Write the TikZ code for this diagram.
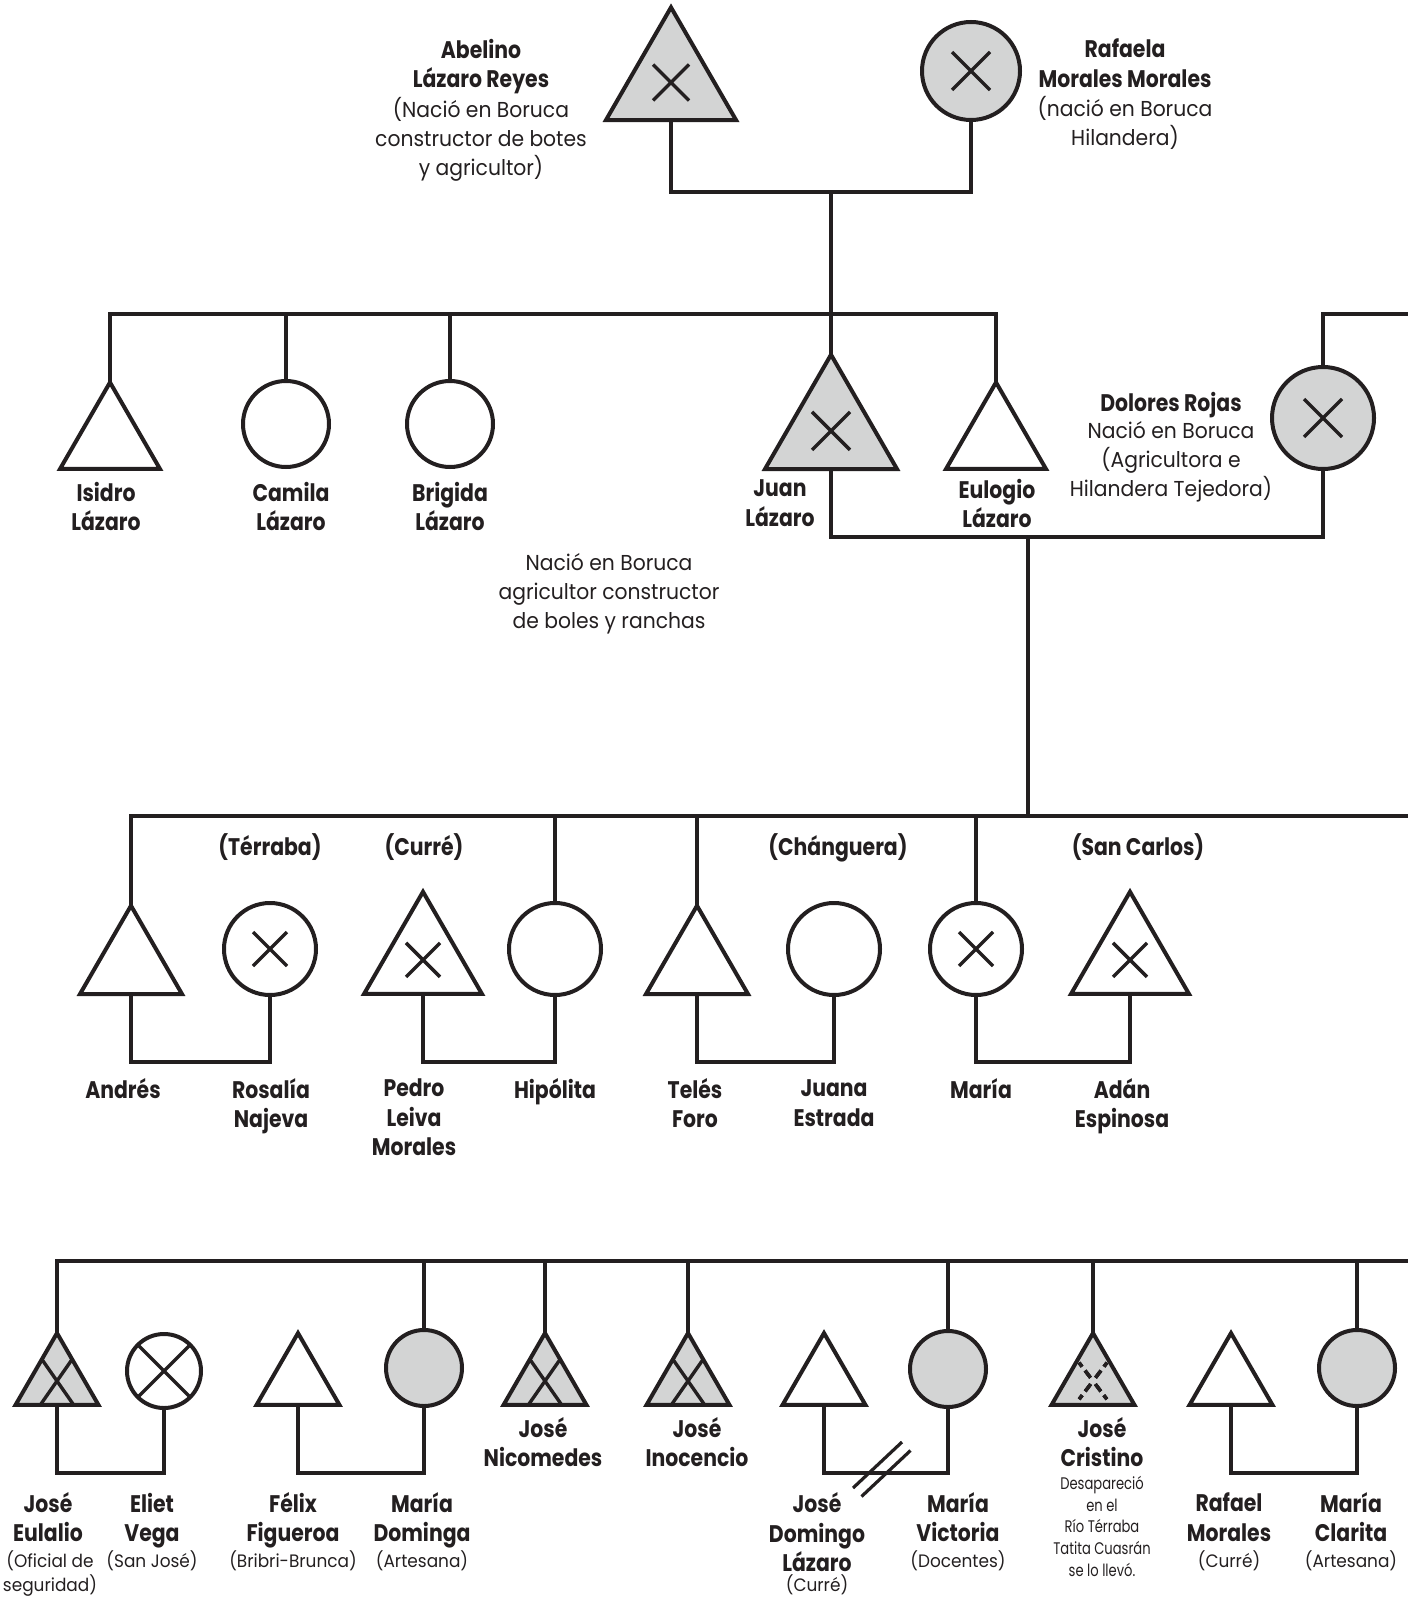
\documentclass[tikz,border=0pt]{standalone}
\usepackage{fontspec}
\setmainfont{Poppins}[FakeStretch=0.94, BoldFeatures={FakeStretch=0.85}]
\newfontfamily\condfont{Poppins}[FakeStretch=0.78]
\usetikzlibrary{shapes.geometric,calc,positioning}

\definecolor{ink}{RGB}{35,31,32}
\definecolor{shade}{RGB}{211,212,212}

\newcommand{\namesize}{\fontsize{12}{14.75}\selectfont\bfseries}
\newcommand{\infosize}{\fontsize{10.8}{14.5}\selectfont}
\newcommand{\smallinfo}{\fontsize{9}{12}\selectfont}
\newcommand{\tinyinfo}{\condfont\fontsize{8.4}{10.9}\selectfont}

% small cross: deceased
\newcommand{\deadx}[2]{%
  \draw[xline] ([shift={(-#2,-#2)}]#1.center) -- ([shift={(#2,#2)}]#1.center)
               ([shift={(-#2,#2)}]#1.center) -- ([shift={(#2,-#2)}]#1.center);}
% cross filling a small triangle
\newcommand{\bigx}[1]{%
  \begin{scope}
    \clip (#1.corner 1) -- (#1.corner 2) -- (#1.corner 3) -- cycle;
    \draw[xline] ([shift={(-30,-43)}]#1.center) -- ([shift={(30,43)}]#1.center)
                 ([shift={(30,-43)}]#1.center) -- ([shift={(-30,43)}]#1.center);
  \end{scope}}
% broken cross: disappeared
\newcommand{\lostx}[1]{%
  \draw[xline, line cap=butt, dash pattern=on 2.5pt off 2.5pt on 4.5pt off 4pt on 4.5pt off 2.5pt on 2.5pt off 20pt]
    ([shift={(-14,-18.4)}]#1.center) -- ([shift={(14,18.4)}]#1.center);
  \draw[xline, line cap=butt, dash pattern=on 2.5pt off 2.5pt on 4.5pt off 4pt on 4.5pt off 2.5pt on 2.5pt off 20pt]
    ([shift={(14,-18.4)}]#1.center) -- ([shift={(-14,18.4)}]#1.center);}

\begin{document}
\begin{tikzpicture}[x=0.5pt, y=-0.5pt,
    line/.style={draw=ink, line width=1.8pt, line cap=rect},
    man/.style={regular polygon, regular polygon sides=3, draw=ink, line width=2pt,
                fill=white, inner sep=0pt, outer sep=0pt, minimum size=#1},
    woman/.style={circle, draw=ink, line width=2pt, fill=white,
                  inner sep=0pt, outer sep=0pt, minimum size=#1},
    filled/.style={fill=shade},
    xline/.style={draw=ink, line width=1.7pt},
    crossed/.style={path picture={\draw[xline]
        (path picture bounding box.south west) -- (path picture bounding box.north east)
        (path picture bounding box.north west) -- (path picture bounding box.south east);}},
    txt/.style={text=ink, align=center, inner sep=0pt, yshift=-1.8pt,
                execute at begin node=\strut, execute at end node=\strut},
    who/.style={txt, font=\namesize},
    about/.style={txt, font=\infosize},
    aboutsm/.style={txt, font=\smallinfo},
    abouttiny/.style={txt, font=\tinyinfo}]
\useasboundingbox (0,0) rectangle (1407,1599);

% generation 1
\node [man=75.1pt, filled] (abelino) at (671,82.5) {};
\node [woman=49pt, filled] (rafaela) at (971,71) {};
\deadx{abelino}{18}
\deadx{rafaela}{19}
\node [who] (abelino-name) at (481,64) {Abelino\\Lázaro Reyes};
\node [about] (abelino-info) at (481,137) {(Nació en Boruca\\constructor de botes\\y agricultor)};
\node [who] (rafaela-name) at (1125,64) {Rafaela\\Morales Morales};
\node [about] (rafaela-info) at (1125,122) {(nació en Boruca\\Hilandera)};
\coordinate (wed1) at (831,192);
\draw [line] (abelino.south) |- (wed1) -| (rafaela.south);

% generation 2
\coordinate (gen2) at (0,314);
\coordinate (edge2) at (1407,314);
\node [man=57.7pt] (isidro) at (110,440.1) {};
\node [woman=43pt] (camila) at (286,424) {};
\node [woman=43pt] (brigida) at (450,424) {};
\node [man=76.2pt, filled] (juan) at (831,430.9) {};
\node [man=57.7pt] (eulogio) at (996,440.1) {};
\node [woman=51pt, filled] (dolores) at (1323,418) {};
\deadx{juan}{19}
\deadx{dolores}{19}
\draw [line] (wed1) -- (juan.north);
\draw [line] (isidro.north) |- (eulogio.north |- gen2) -- (eulogio.north);
\foreach \p in {camila,brigida}
    \draw [line] (\p.north) -- (\p.north |- gen2);
\draw [line] (dolores.north) |- (edge2);
\node [who] (isidro-name) at (106,507) {Isidro\\Lázaro};
\node [who] (camila-name) at (291,507) {Camila\\Lázaro};
\node [who] (brigida-name) at (450,507) {Brigida\\Lázaro};
\node [who] (juan-name) at (780,504) {Juan\\Lázaro};
\node [who] (eulogio-name) at (997,504) {Eulogio\\Lázaro};
\node [who] (dolores-name) at (1171,402) {Dolores Rojas};
\node [about] (dolores-info) at (1171,460) {Nació en Boruca\\(Agricultora e\\Hilandera Tejedora)};
\node [about] (juan-info) at (609,592) {Nació en Boruca\\agricultor constructor\\de boles y ranchas};
\coordinate (wed2) at (1028,537);
\draw [line] (juan.south) |- (wed2) -| (dolores.south);

% generation 3
\coordinate (gen3) at (0,816);
\coordinate (edge3) at (1407,816);
\coordinate (wed3) at (0,1062);
\node [man=58.9pt] (andres) at (131,964.6) {};
\node [woman=46pt] (rosalia) at (270,949) {};
\node [man=68.1pt] (pedro) at (423,959.9) {};
\node [woman=46pt] (hipolita) at (555,949) {};
\node [man=58.9pt] (teles) at (697,964.6) {};
\node [woman=46pt] (juana) at (834,949) {};
\node [woman=46pt] (maria) at (976,949) {};
\node [man=68.1pt] (adan) at (1130,959.9) {};
\foreach \p in {rosalia,pedro,maria,adan}
    \deadx{\p}{17}
\draw [line] (wed2) -- (wed2 |- gen3);
\draw [line] (andres.north) |- (edge3);
\foreach \p in {hipolita,teles,maria}
    \draw [line] (\p.north) -- (\p.north |- gen3);
\foreach \a/\b in {andres/rosalia,pedro/hipolita,teles/juana,maria/adan}
    \draw [line] (\a.south) -- (\a.south |- wed3) -- (\b.south |- wed3) -- (\b.south);
\node [who] (terraba) at (270,845) {(Térraba)};
\node [who] (curre) at (424,845) {(Curré)};
\node [who] (changuera) at (838,845) {(Chánguera)};
\node [who] (sancarlos) at (1138,845) {(San Carlos)};
\node [who] (andres-name) at (123,1089) {Andrés};
\node [who] (rosalia-name) at (271,1104) {Rosalía\\Najeva};
\node [who] (pedro-name) at (414,1118) {Pedro\\Leiva\\Morales};
\node [who] (hipolita-name) at (555,1089) {Hipólita};
\node [who] (teles-name) at (695,1104) {Telés\\Foro};
\node [who] (juana-name) at (834,1104) {Juana\\Estrada};
\node [who] (maria-name) at (981,1089) {María};
\node [who] (adan-name) at (1122,1104) {Adán\\Espinosa};

% generation 4
\coordinate (edge4) at (1407,1261);
\coordinate (wed4) at (0,1473);
\node [man=47.9pt, filled] (eulalio) at (57,1381) {};
\node [woman=37pt, crossed] (eliet) at (164,1371) {};
\node [man=47.9pt] (felix) at (298,1381) {};
\node [woman=38pt, filled] (dominga) at (424,1368) {};
\node [man=47.9pt, filled] (nicomedes) at (545,1381) {};
\node [man=47.9pt, filled] (inocencio) at (688,1381) {};
\node [man=47.9pt] (domingo) at (824,1381) {};
\node [woman=38pt, filled] (victoria) at (948,1369) {};
\node [man=47.9pt, filled] (cristino) at (1093,1381) {};
\node [man=47.9pt] (rafael) at (1231,1381) {};
\node [woman=38pt, filled] (clarita) at (1357,1368) {};
\foreach \p in {eulalio,nicomedes,inocencio}
    \bigx{\p}
\lostx{cristino}
\draw [line] (eulalio.north) |- (edge4);
\foreach \p in {dominga,nicomedes,inocencio,victoria,cristino,clarita}
    \draw [line] (\p.north) -- (\p.north |- edge4);
\foreach \a/\b in {eulalio/eliet,felix/dominga,domingo/victoria,rafael/clarita}
    \draw [line] (\a.south) -- (\a.south |- wed4) -- (\b.south |- wed4) -- (\b.south);
% divorce
\coordinate (split) at (882,1469);
\draw [line, line width=1.6pt, line cap=butt] ([shift={(-29,19)}]split) -- ([shift={(20,-27)}]split)
    ([shift={(-20.5,27.5)}]split) -- ([shift={(28.5,-18.5)}]split);
\node [who] (eulalio-name) at (48,1518) {José\\Eulalio};
\node [aboutsm] (eulalio-info) at (50,1571) {(Oficial de\\seguridad)};
\node [who] (eliet-name) at (152,1518) {Eliet\\Vega};
\node [aboutsm] (eliet-info) at (152,1559) {(San José)};
\node [who] (felix-name) at (293,1518) {Félix\\Figueroa};
\node [aboutsm] (felix-info) at (293,1559) {(Bribri-Brunca)};
\node [who] (dominga-name) at (422,1518) {María\\Dominga};
\node [aboutsm] (dominga-info) at (422,1559) {(Artesana)};
\node [who] (nicomedes-name) at (543,1443) {José\\Nicomedes};
\node [who] (inocencio-name) at (697,1443) {José\\Inocencio};
\node [who] (domingo-name) at (817,1533) {José\\Domingo\\Lázaro};
\node [aboutsm] (domingo-info) at (817,1583) {(Curré)};
\node [who] (victoria-name) at (958,1518) {María\\Victoria};
\node [aboutsm] (victoria-info) at (958,1559) {(Docentes)};
\node [who] (cristino-name) at (1102,1443) {José\\Cristino};
\node [abouttiny] (cristino-info) at (1102,1526) {Desapareció\\en el\\Río Térraba\\Tatita Cuasrán\\se lo llevó.};
\node [who] (rafael-name) at (1229,1518) {Rafael\\Morales};
\node [aboutsm] (rafael-info) at (1229,1559) {(Curré)};
\node [who] (clarita-name) at (1351,1518) {María\\Clarita};
\node [aboutsm] (clarita-info) at (1351,1559) {(Artesana)};
\end{tikzpicture}
\end{document}
